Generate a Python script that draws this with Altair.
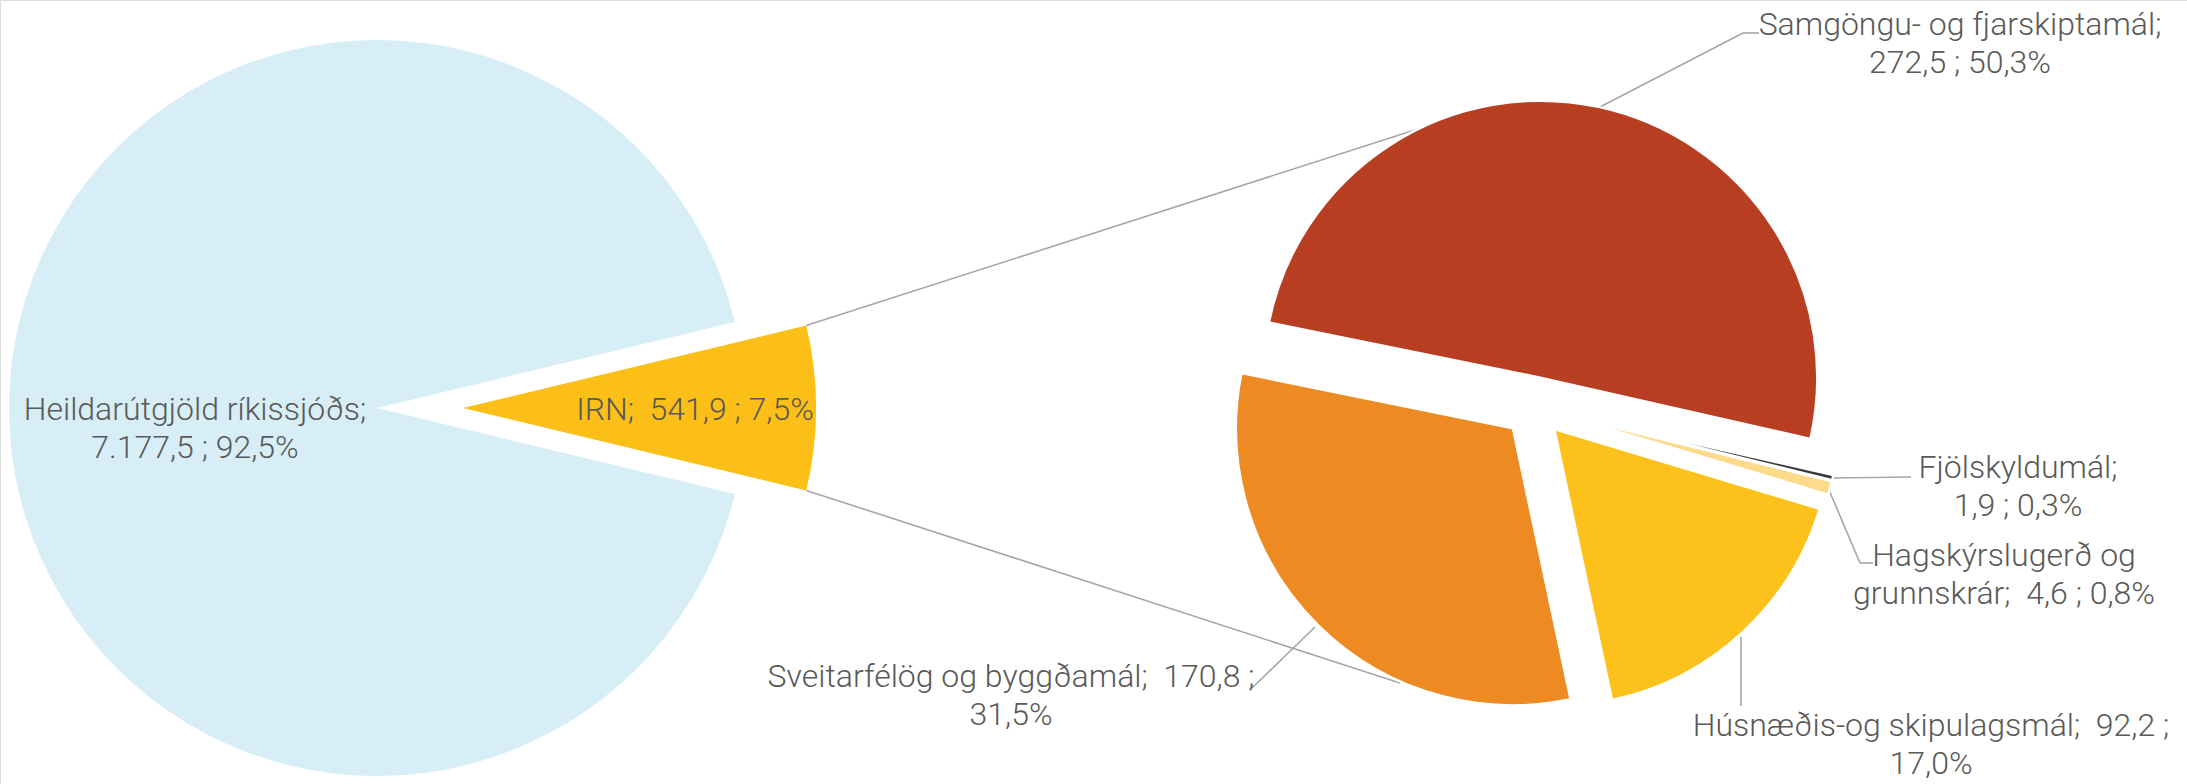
import math
import altair as alt
import pandas as pd

# ---------------- data ----------------
main_labels = ["IRN", "Heildarútgjöld ríkissjóðs"]
main_pct = [7.5, 92.5]
main_values = [541.9, 7177.5]

sub_labels = [
    "Samgöngu- og fjarskiptamál",
    "Fjölskyldumál",
    "Hagskýrslugerð og grunnskrár",
    "Húsnæðis-og skipulagsmál",
    "Sveitarfélög og byggðamál",
]
sub_values = [272.5, 1.9, 4.6, 92.2, 170.8]
sub_pct = [50.3, 0.3, 0.8, 17.0, 31.5]

NB = " \u00a0"  # double space kept visible in SVG
label_text = {
    "Heildarútgjöld ríkissjóðs": ["Heildarútgjöld ríkissjóðs;", "7.177,5 ; 92,5%"],
    "IRN": [f"IRN;{NB}541,9 ; 7,5%"],
    "Samgöngu- og fjarskiptamál": ["Samgöngu- og fjarskiptamál;", "272,5 ; 50,3%"],
    "Fjölskyldumál": ["Fjölskyldumál;", "1,9 ; 0,3%"],
    "Hagskýrslugerð og grunnskrár": ["Hagskýrslugerð og", f"grunnskrár;{NB}4,6 ; 0,8%"],
    "Húsnæðis-og skipulagsmál": [f"Húsnæðis-og skipulagsmál;{NB}92,2 ;", "17,0%"],
    "Sveitarfélög og byggðamál": [f"Sveitarfélög og byggðamál;{NB}170,8 ;", "31,5%"],
}

# ---------------- style / layout ----------------
W, H = 2187, 784
main_colors = ["#FCBF17", "#D7EEF6"]
sub_colors = ["#B73E20", "#3A3A3A", "#FDD98A", "#FCC11A", "#EE8A22"]
TEXT_COLOR = "#595959"
LINE_COLOR = "#A6A6A6"
FONT = "Roboto"
FONT_SIZE = 32
LINE_H = 38

# left pie
L_CX, L_CY = 390, 408
L_START = 90 - main_pct[0] * 3.6 / 2  # IRN wedge centred on 3 o'clock
L_EXPLODE = [73, 13]
L_RADIUS = [353, 368]

# right pie
R_CX, R_CY = 1534, 407
R_START = -78.5
R_EXPLODE = [30, 30, 30, 30, 30]
R_RADIUS = 277

# label anchors (centre x, centre y of first line)
label_pos = {
    "Heildarútgjöld ríkissjóðs": (195, 410),
    "IRN": (695, 410),
    "Samgöngu- og fjarskiptamál": (1960, 25),
    "Fjölskyldumál": (2018, 468),
    "Hagskýrslugerð og grunnskrár": (2004, 556),
    "Húsnæðis-og skipulagsmál": (1931, 726),
    "Sveitarfélög og byggðamál": (1011, 677),
}

xs = alt.Scale(domain=[0, W], nice=False, zero=False)
ys = alt.Scale(domain=[0, H], nice=False, zero=False, reverse=True)
color_scale = alt.Scale(domain=main_labels + sub_labels, range=main_colors + sub_colors)


def pie(labels, pct, start_deg, cx, cy, explode, radius, stroke_w):
    df = pd.DataFrame({"label": labels, "v": pct, "k": list(range(len(labels)))})
    s = math.radians(start_deg)
    ex = "[" + ",".join(str(e) for e in explode) + "][datum.k]"
    if isinstance(radius, list):
        rx = "[" + ",".join(str(r) for r in radius) + "][datum.k]"
    else:
        rx = str(radius)
    return (
        alt.Chart(df)
        .transform_joinaggregate(total="sum(v)")
        .transform_window(cum="sum(v)", sort=[alt.SortField("k")], frame=[None, 0])
        .transform_calculate(
            a1=f"{s} + 2*PI*datum.cum/datum.total",
            a0=f"{s} + 2*PI*(datum.cum - datum.v)/datum.total",
        )
        .transform_calculate(mid="(datum.a0 + datum.a1)/2", ex=ex, r=rx)
        .transform_calculate(
            cx=f"{cx} + datum.ex*sin(datum.mid)",
            cy=f"{cy} - datum.ex*cos(datum.mid)",
        )
        .mark_arc(stroke="white", strokeWidth=stroke_w)
        .encode(
            x=alt.X("cx:Q", scale=xs, axis=None),
            y=alt.Y("cy:Q", scale=ys, axis=None),
            theta=alt.Theta("a0:Q", scale=None),
            theta2="a1:Q",
            radius=alt.Radius("r:Q", scale=None),
            color=alt.Color("label:N", scale=color_scale, legend=None),
        )
    )


left = pie(main_labels, main_pct, L_START, L_CX, L_CY, L_EXPLODE, L_RADIUS, 0)
right = pie(sub_labels, sub_pct, R_START, R_CX, R_CY, R_EXPLODE, R_RADIUS, 2.5)

# connector lines from IRN wedge corners to second pie, then leader lines
yc_x = L_CX + L_EXPLODE[0]
a_top = math.radians(L_START)
a_bot = math.radians(L_START + main_pct[0] * 3.6)
segs = [
    (yc_x + L_RADIUS[0] * math.sin(a_top), L_CY - L_RADIUS[0] * math.cos(a_top), 1421, 128),
    (yc_x + L_RADIUS[0] * math.sin(a_bot), L_CY - L_RADIUS[0] * math.cos(a_bot), 1400, 683),
    (1598, 108, 1743, 33), (1743, 33, 1759, 33),
    (1831, 478, 1911, 477),
    (1829, 490, 1860, 563), (1860, 563, 1873, 563),
    (1741, 637, 1741, 706),
    (1315, 627, 1252, 688),
]
seg_df = pd.DataFrame(segs, columns=["x", "y", "x2", "y2"])
lines = alt.Chart(seg_df).mark_rule(color=LINE_COLOR, strokeWidth=1.6).encode(
    x=alt.X("x:Q", scale=xs, axis=None),
    y=alt.Y("y:Q", scale=ys, axis=None),
    x2="x2:Q",
    y2="y2:Q",
)

rows = []
for name, lines_ in label_text.items():
    px, py = label_pos[name]
    for i, t in enumerate(lines_):
        rows.append({"t": t, "x": px, "y": py + i * LINE_H})
txt_df = pd.DataFrame(rows)
texts = alt.Chart(txt_df).mark_text(
    font=FONT, fontSize=FONT_SIZE, fontWeight=300, color=TEXT_COLOR,
    align="center", baseline="middle",
).encode(
    x=alt.X("x:Q", scale=xs, axis=None),
    y=alt.Y("y:Q", scale=ys, axis=None),
    text="t:N",
)

chart = (
    alt.layer(lines, left, right, texts)
    .properties(width=W, height=H, padding=0, autosize=alt.AutoSizeParams(type="none"))
    .configure_view(stroke=None)
    .configure(background="white")
)

chart.save("out.html", embed_options={"renderer": "svg", "actions": False})
